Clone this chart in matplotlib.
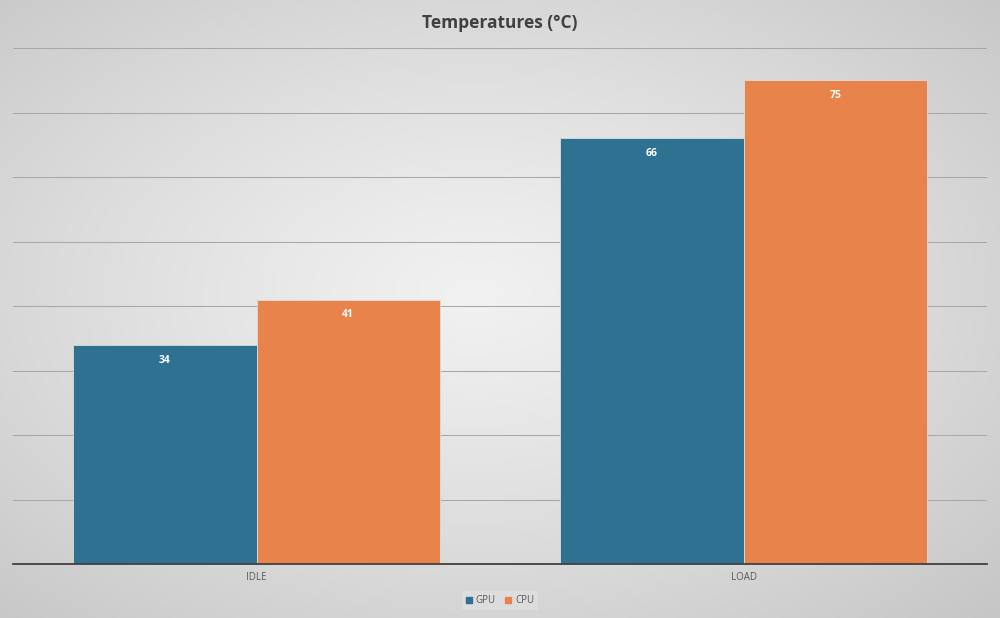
import numpy as np
import matplotlib.pyplot as plt
from matplotlib.patches import Patch

categories = ["IDLE", "LOAD"]
gpu_temps = [34, 66]
cpu_temps = [41, 75]
series_names = ["GPU", "CPU"]

GPU_COLOR = "#2f7191"
CPU_COLOR = "#e8834c"

plt.rcParams["font.family"] = ["Open Sans", "DejaVu Sans"]

fig = plt.figure(figsize=(10, 6.18), dpi=100)

# radial gradient background, light grey in the middle, darker towards corners
bg = fig.add_axes([0, 0, 1, 1], zorder=-10)
yy, xx = np.mgrid[-1:1:400j, -1:1:650j]
r = np.sqrt((xx + 0.05) ** 2 + (yy + 0.05) ** 2) / np.sqrt(2)
shade = 0.945 - 0.16 * np.clip(r, 0, 1.1) ** 1.2
bg.imshow(np.dstack([shade] * 3), extent=[0, 1, 0, 1], aspect="auto", origin="upper")
bg.axis("off")

ax = fig.add_axes([0.013, 0.0874, 0.974, 0.8346])
ax.patch.set_alpha(0)

x = np.arange(len(categories))
w = 0.377
bars_gpu = ax.bar(x - w / 2, gpu_temps, w, color=GPU_COLOR, edgecolor="#dcdcdc",
                  linewidth=0.6, zorder=3, label=series_names[0])
bars_cpu = ax.bar(x + w / 2, cpu_temps, w, color=CPU_COLOR, edgecolor="#dcdcdc",
                  linewidth=0.6, zorder=3, label=series_names[1])

for bars in (bars_gpu, bars_cpu):
    for b in bars:
        ax.annotate(f"{b.get_height():.0f}", (b.get_x() + b.get_width() / 2, b.get_height()),
                    xytext=(0, -11), textcoords="offset points", ha="center", va="center",
                    color="white", fontsize=7.5, fontweight="bold", zorder=4)

ax.set_xlim(-0.5, 1.5)
ax.set_ylim(0, 80)
ax.set_yticks(np.arange(10, 81, 10))
ax.yaxis.grid(True, color="#a8a8a8", linewidth=0.75, zorder=0)
ax.tick_params(axis="y", left=False, labelleft=False)
ax.set_xticks(x)
ax.set_xticklabels(categories, fontsize=7, color="#595959")
ax.tick_params(axis="x", length=0, pad=6)
for side in ("top", "right", "left"):
    ax.spines[side].set_visible(False)
ax.spines["bottom"].set_color("#404040")
ax.spines["bottom"].set_linewidth(1.3)
ax.spines["bottom"].set_zorder(5)

fig.text(0.5, 0.963, "Temperatures (°C)", ha="center", va="center",
         fontsize=12.5, fontweight="bold", color="#404040")

handles = [Patch(color=GPU_COLOR), Patch(color=CPU_COLOR)]
fig.legend(handles, series_names, loc="center", bbox_to_anchor=(0.5, 0.028),
           ncol=2, fontsize=7, frameon=True, facecolor="#e2e2e2", edgecolor="none",
           framealpha=0.6, handlelength=0.6, handleheight=0.6, handletextpad=0.4,
           columnspacing=1.0, labelcolor="#595959")

fig.savefig("out.png", dpi=100)
